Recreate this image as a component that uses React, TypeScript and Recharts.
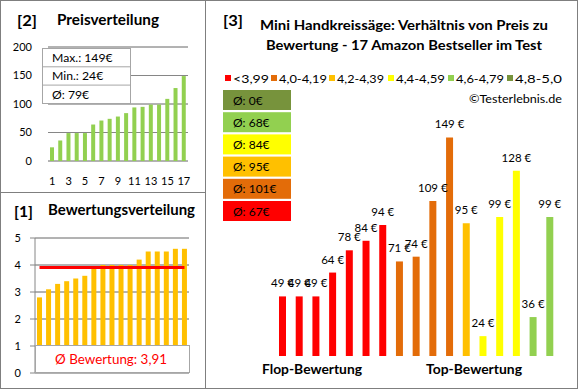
import React from 'react'
import { Bar, BarChart, CartesianGrid, Cell, LabelList, ReferenceLine, XAxis, YAxis } from 'recharts'

// [2] price distribution, sorted ascending
const sortedPrices = [24, 36, 49, 49, 49, 64, 71, 74, 78, 84, 94, 95, 99, 99, 109, 128, 149]
const priceTicks = [0, 50, 100, 150, 200]
const priceStats = ['Max.: 149€', 'Min.: 24€', 'Ø: 79€']

// [1] rating distribution, sorted ascending
const sortedRatings = [2.8, 3.1, 3.3, 3.4, 3.5, 3.6, 3.9, 4.0, 4.0, 4.0, 4.0, 4.2, 4.5, 4.5, 4.5, 4.6, 4.6]
const ratingTicks = [0, 1, 2, 3, 4, 5]
const ratingAverage = 3.91

// [3] price per product, flop -> top
const productPrices = [49, 49, 49, 64, 78, 84, 94, 71, 74, 109, 149, 95, 24, 99, 128, 36, 99]
const productGroups = [0, 0, 0, 0, 0, 0, 0, 1, 1, 1, 1, 2, 3, 3, 3, 4, 4]
const groupLabels = ['<3,99', '4,0-4,19', '4,2-4,39', '4,4-4,59', '4,6-4,79', '4,8-5,0']
const groupColors = ['#FF0000', '#E36C09', '#FFC000', '#FFFF00', '#92D050', '#77933C']
const groupAverages = [67, 101, 95, 84, 68, 0]

const FONT = 'Lato, "Noto Sans", sans-serif'
const GRID_MINOR = '#bfbfbf'
const GRID_MAJOR = '#868686'
const BORDER = '#7f7f7f'
const BOX_LINE = '#a6a6a6'

const priceData = sortedPrices.map((v, i) => ({ idx: String(i + 1), value: v }))
const ratingData = sortedRatings.map((v, i) => ({ idx: String(i + 1), value: v }))
const productData = productPrices.map((v, i) => ({ idx: i, price: v, group: productGroups[i] }))

const priceMinor = Array.from({ length: 21 }, (_, i) => i * 10)
const ratingMinor = Array.from({ length: 26 }, (_, i) => Math.round(i * 2) / 10)

// legend layout (x of each swatch, width of its label) as measured on the original
const legendX = [225, 271, 329, 388, 448, 507]
const legendW = [36, 48, 47, 49, 48, 47]

const tickStyle = { fontSize: 11, fill: '#000', fontFamily: FONT }

type TxtProps = { x: number; y: number; w?: number; size: number; bold?: boolean; fill?: string; anchor?: 'start' | 'middle' | 'end'; children: React.ReactNode }
function Txt({ x, y, w, size, bold, fill = '#000', anchor = 'start', children }: TxtProps) {
  return (
    <text
      x={x}
      y={y}
      fontSize={size}
      fontWeight={bold ? 700 : 400}
      fill={fill}
      textAnchor={anchor}
      textLength={w}
      lengthAdjust={w ? 'spacingAndGlyphs' : undefined}
    >
      {children}
    </text>
  )
}

const PriceLabel = (props: any) => {
  const { x, y, width, value } = props
  return (
    <text x={x + width / 2} y={y - 9} textAnchor="middle" fontSize={11.5} fontFamily={FONT} fill="#000">
      {`${value} €`}
    </text>
  )
}

export default function App() {
  return (
    <div style={{ position: 'fixed', left: 0, top: 0, width: 580, height: 390, background: '#fff', fontFamily: FONT }}>
      {/* [2] Preisverteilung */}
      <div style={{ position: 'absolute', left: 0, top: 0 }}>
        <BarChart width={205} height={192} data={priceData} margin={{ top: 47, right: 17, left: 0, bottom: 0 }} barCategoryGap={0}>
          <CartesianGrid vertical={false} horizontalValues={priceMinor} stroke={GRID_MINOR} />
          <CartesianGrid vertical={false} horizontalValues={priceTicks} stroke={GRID_MAJOR} />
          <XAxis dataKey="idx" interval={1} axisLine={false} tickLine={false} height={31} tickMargin={10} tick={tickStyle} />
          <YAxis width={48} domain={[0, 200]} ticks={priceTicks} axisLine={false} tickLine={false} tickMargin={10} tick={tickStyle} />
          <Bar dataKey="value" fill="#92D050" barSize={4} isAnimationActive={false} />
        </BarChart>
      </div>

      {/* [1] Bewertungsverteilung */}
      <div style={{ position: 'absolute', left: 0, top: 192 }}>
        <BarChart width={205} height={196} data={ratingData} margin={{ top: 46, right: 16, left: 0, bottom: 15 }} barCategoryGap={0}>
          <CartesianGrid vertical={false} horizontalValues={ratingMinor} stroke={GRID_MINOR} />
          <CartesianGrid vertical={false} horizontalValues={ratingTicks} stroke={GRID_MAJOR} />
          <XAxis dataKey="idx" hide />
          <YAxis width={35} domain={[0, 5]} ticks={ratingTicks} axisLine={{ stroke: GRID_MAJOR }} tickLine={{ stroke: GRID_MAJOR }} tickSize={5} tickMargin={9} tick={tickStyle} />
          <Bar dataKey="value" fill="#FFC000" barSize={5} isAnimationActive={false} />
          <ReferenceLine
            segment={[{ x: '1', y: ratingAverage }, { x: String(sortedRatings.length), y: ratingAverage }]}
            stroke="#FF0000"
            strokeWidth={3}
          />
        </BarChart>
      </div>

      {/* [3] Preis / Bewertung */}
      <div style={{ position: 'absolute', left: 205, top: 0 }}>
        <BarChart width={372} height={388} data={productData} margin={{ top: 120, right: 19, left: 69, bottom: 32 }} barCategoryGap={0}>
          <XAxis dataKey="idx" hide />
          <YAxis hide domain={[11.5, 160]} allowDataOverflow />
          <Bar dataKey="price" barSize={7} isAnimationActive={false}>
            {productData.map((d) => (
              <Cell key={d.idx} fill={groupColors[d.group]} />
            ))}
            <LabelList dataKey="price" content={PriceLabel} />
          </Bar>
        </BarChart>
      </div>

      {/* frames, boxes and texts */}
      <svg width={580} height={390} style={{ position: 'absolute', left: 0, top: 0, fontFamily: FONT, pointerEvents: 'none' }}>
        <g fill="none" stroke={BORDER} strokeWidth={1}>
          <rect x={0.5} y={0.5} width={577} height={388} />
          <line x1={205.5} y1={0} x2={205.5} y2={389} />
          <line x1={0} y1={192.5} x2={205} y2={192.5} />
        </g>

        <Txt x={17} y={26} w={20} size={16} bold>[2]</Txt>
        <Txt x={57} y={25} w={102} size={14.4} bold>Preisverteilung</Txt>
        <rect x={42.5} y={48.5} width={88} height={55} fill="#fff" stroke={BOX_LINE} />
        {priceStats.map((s, i) => (
          <g key={s}>
            {i > 0 && <line x1={42.5} x2={130.5} y1={48.5 + i * 18.3} y2={48.5 + i * 18.3} stroke={BOX_LINE} />}
            <Txt x={52} y={62 + i * 18.3} size={12.2}>{s}</Txt>
          </g>
        ))}

        <Txt x={14} y={217} w={19} size={16} bold>[1]</Txt>
        <Txt x={48} y={215} w={147} size={14.4} bold>Bewertungsverteilung</Txt>
        <rect x={35.5} y={345.5} width={154} height={27} fill="#fff" stroke={BOX_LINE} />
        <Txt x={111} y={364} w={112} size={13} fill="#FF0000" anchor="middle">
          Ø Bewertung: {String(ratingAverage).replace('.', ',')}
        </Txt>

        <Txt x={223} y={26} w={20} size={16} bold>[3]</Txt>
        <Txt x={404} y={30} w={288} size={13.3} bold anchor="middle">Mini Handkreissäge: Verhältnis von Preis zu</Txt>
        <Txt x={404} y={50} w={276} size={13.3} bold anchor="middle">Bewertung - 17 Amazon Bestseller im Test</Txt>
        {groupLabels.map((l, i) => (
          <g key={l}>
            <rect x={legendX[i]} y={75} width={6} height={6} fill={groupColors[i]} />
            <Txt x={legendX[i] + 8} y={83} w={legendW[i]} size={12}>{l}</Txt>
          </g>
        ))}
        <Txt x={469} y={103} w={93} size={12}>©Testerlebnis.de</Txt>
        {[...groupAverages].reverse().map((a, i) => {
          const g = groupAverages.length - 1 - i
          const top = 90 + i * 22.2
          return (
            <g key={g}>
              <rect x={223} y={top} width={68} height={20} fill={groupColors[g]} />
              <Txt x={233} y={top + 14.5} size={12}>Ø: {a}€</Txt>
            </g>
          )
        })}

        <Txt x={312} y={374} w={100} size={13.3} bold anchor="middle">Flop-Bewertung</Txt>
        <Txt x={474} y={374} w={96} size={13.3} bold anchor="middle">Top-Bewertung</Txt>
      </svg>
    </div>
  )
}
